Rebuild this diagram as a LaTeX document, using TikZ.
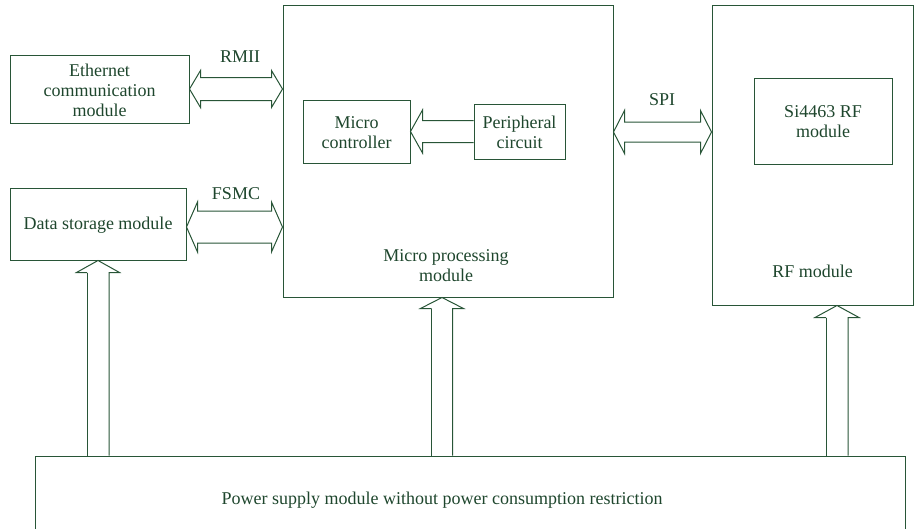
\documentclass[tikz,border=0pt]{standalone}
\usepackage{fontspec}
\setmainfont{Liberation Serif}
\usetikzlibrary{calc}
\definecolor{lc}{RGB}{40,85,55}
\definecolor{tc}{RGB}{30,70,45}
\tikzset{
  box/.style={draw=lc, line width=1pt, rectangle, inner sep=0pt},
  txt/.style={text=tc, font=\fontsize{18}{20}\selectfont, align=center, inner sep=0pt},
  conn/.style={draw=lc, line width=1pt, line join=miter},
}
\newcommand\hollowlr[5]{% left tip, right tip, half shaft, half head, head length
  \draw[conn] (#1) -- ($(#1)+(#5,-#4)$) -- ($(#1)+(#5,-#3)$) -- ($(#2)+(-#5,-#3)$) -- ($(#2)+(-#5,-#4)$) -- (#2)
    -- ($(#2)+(-#5,#4)$) -- ($(#2)+(-#5,#3)$) -- ($(#1)+(#5,#3)$) -- ($(#1)+(#5,#4)$) -- cycle;}
\newcommand\hollowin[5]{% left tip, right end (box side), half shaft, half head, head length
  \draw[conn] ($(#2)+(0,-#3)$) -- ($(#1)+(#5,-#3)$) -- ($(#1)+(#5,-#4)$) -- (#1) -- ($(#1)+(#5,#4)$) -- ($(#1)+(#5,#3)$) -- ($(#2)+(0,#3)$);}
\newcommand\hollowup[5]{% tip, bottom anchor, half shaft, half head, head length
  \draw[conn] ($(#1)+(-#3,#5)$) coordinate (ua) -- ($(#1)+(-#4,#5)$) -- (#1) -- ($(#1)+(#4,#5)$) -- ($(#1)+(#3,#5)$) coordinate (ub) -- (ub |- #2);
  \draw[conn] (ua) -- (ua |- #2);}
\begin{document}
\begin{tikzpicture}[x=1pt,y=-1pt]
\useasboundingbox (0,0) rectangle (915,528);
% boxes
\node[box, minimum width=179pt, minimum height=68pt] (eth) at (99.5,89) {};
\node[txt] (etht) at (99.5,90) {Ethernet\\communication\\module};
\node[box, minimum width=176pt, minimum height=72pt] (ds) at (98,224) {};
\node[txt] (dst) at (98,225) {Data storage module};
\node[box, minimum width=330pt, minimum height=292pt] (mpm) at (448,151) {};
\node[txt] (mpmt) at (446,266) {Micro processing\\module};
\node[box, minimum width=107pt, minimum height=63pt] (mc) at (356.5,131.5) {};
\node[txt] (mct) at (356.5,133) {Micro\\controller};
\node[box, minimum width=91pt, minimum height=55pt] (pc) at (519.5,131.5) {};
\node[txt] (pct) at (519.5,132) {Peripheral\\circuit};
\node[box, minimum width=201pt, minimum height=300pt] (rf) at (812.5,155) {};
\node[txt] (rft) at (812.5,271) {RF module};
\node[box, minimum width=138pt, minimum height=86pt] (si) at (823,121) {};
\node[txt] (sit) at (823,122) {Si4463 RF\\module};
\node[box, minimum width=870pt, minimum height=104pt] (pw) at (470,508) {};
\node[txt] (pwt) at (442,500) {Power supply module without power consumption restriction};
% labels
\node[txt] (rmii) at (240,57) {RMII};
\node[txt] (fsmc) at (236,194) {FSMC};
\node[txt] (spi) at (662,100) {SPI};
% coordinates
\coordinate (rmiiL) at (eth.east);
\coordinate (rmiiR) at (mpm.west |- eth.east);
\coordinate (fy) at (0,227);
\coordinate (fsmcL) at (ds.east |- fy);
\coordinate (fsmcR) at (mpm.west |- fy);
\coordinate (sy) at (0,132);
\coordinate (spiL) at (mpm.east |- sy);
\coordinate (spiR) at (rf.west |- sy);
\coordinate (ix) at (442,0);
\coordinate (rx) at (837,0);
\coordinate (mtip) at (mpm.south -| ix);
\coordinate (rtip) at (rf.south -| rx);
% arrows
\hollowlr{rmiiL}{rmiiR}{11.5}{18.5}{11}
\hollowlr{fsmcL}{fsmcR}{16}{25}{11}
\hollowlr{spiL}{spiR}{10}{21.5}{11}
\hollowin{mc.east}{pc.west}{11}{21.5}{12}
\hollowup{ds.south}{pw.north}{11}{21.5}{12}
\hollowup{mtip}{pw.north}{10.5}{21.5}{11}
\hollowup{rtip}{pw.north}{11}{22}{12}
\end{tikzpicture}
\end{document}
